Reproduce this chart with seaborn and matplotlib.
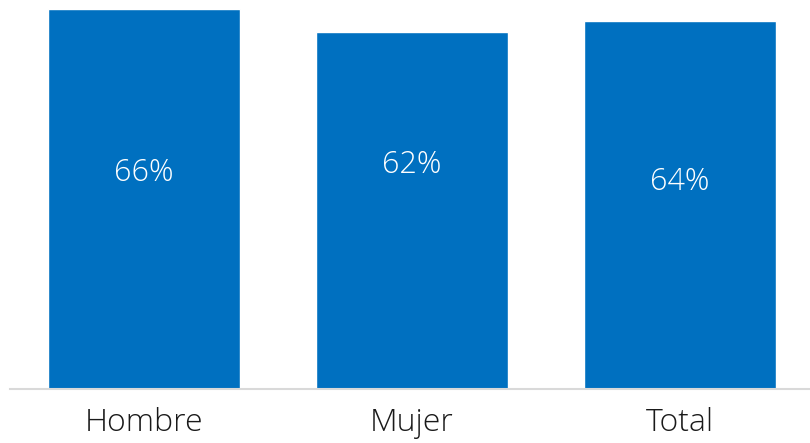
import matplotlib
matplotlib.use("Agg")
import matplotlib.pyplot as plt
import seaborn as sns
import pandas as pd

categories = ["Hombre", "Mujer", "Total"]
values = [66, 62, 64]
labels = ["66%", "62%", "64%"]

sns.set_theme(style="white")
plt.rcParams['font.family'] = ['Open Sans', 'DejaVu Sans']

df = pd.DataFrame({"cat": categories, "val": values})

fig = plt.figure(figsize=(8.10, 4.43), dpi=100)
ax = fig.add_axes([10/810, (443-389)/443, 804/810, 389/443])
sns.barplot(data=df, x="cat", y="val", color="#0070C0", saturation=1,
            width=0.713, ax=ax)
ax.set_xlim(-0.5, 2.5)
ax.set_ylim(0, 67.6)

label_frac = [0.57, 0.628, 0.561]
for i, (v, lab) in enumerate(zip(values, labels)):
    ax.text(i, v * label_frac[i], lab, ha="center", va="center",
            color="white", fontsize=22, fontweight="light")

for s in ["top", "right", "left"]:
    ax.spines[s].set_visible(False)
ax.spines["bottom"].set_color("#d9d9d9")
ax.spines["bottom"].set_linewidth(1.5)
ax.set_yticks([])
ax.set_xlabel("")
ax.set_ylabel("")
ax.tick_params(axis="x", length=0, pad=13, labelsize=23, labelcolor="#1a1a1a")
for t in ax.get_xticklabels():
    t.set_fontweight("light")

fig.savefig("out.png", dpi=100)
